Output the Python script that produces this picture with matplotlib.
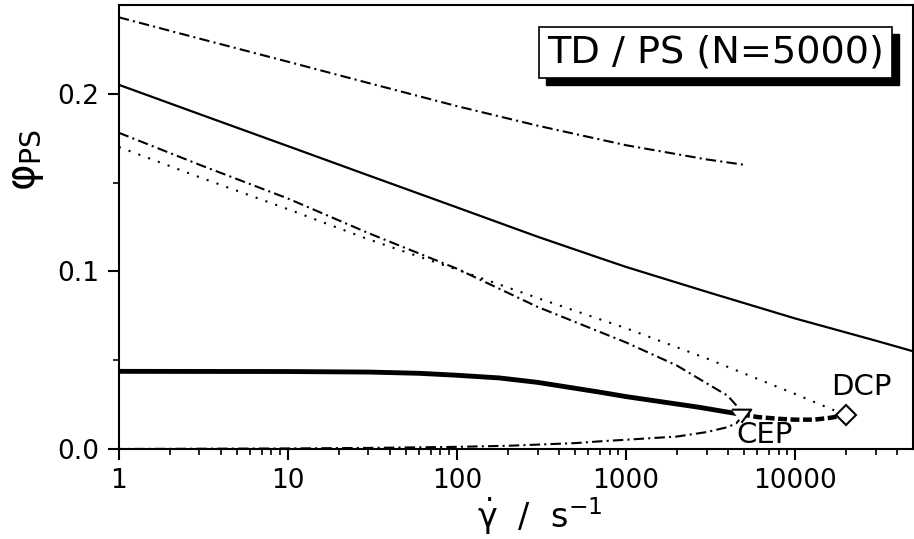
import matplotlib
matplotlib.use("Agg")
import matplotlib.pyplot as plt
from matplotlib.patches import Rectangle
from matplotlib.ticker import FixedLocator, NullFormatter, FixedFormatter

plt.rcParams['font.family'] = ['DejaVu Sans']
plt.rcParams['mathtext.fontset'] = 'dejavusans'

# upper dash-dot curve (ends at 5000)
xa = [1, 3, 10, 30, 100, 300, 1000, 3000, 5000]
ya = [0.243, 0.231, 0.218, 0.206, 0.193, 0.182, 0.171, 0.163, 0.160]

# thin solid curve
xb = [1, 3, 10, 30, 100, 300, 700, 1000, 3000, 10000, 30000, 50000]
yb = [0.205, 0.1885, 0.1705, 0.154, 0.136, 0.1195, 0.1075, 0.1025, 0.0885, 0.0735, 0.061, 0.055]

# dotted curve (ends at DCP)
xd = [1, 3, 10, 30, 100, 300, 1000, 3000, 10000, 20000]
yd = [0.170, 0.153, 0.135, 0.118, 0.101, 0.085, 0.068, 0.051, 0.031, 0.019]

# C-shaped dash-dot curve: upper branch to the tip, lower branch back
xc = [1, 3, 10, 30, 100, 300, 1000, 2000, 3000, 4000, 4500, 4750, 4800,
      4750, 4500, 4000, 3000, 2000, 1000, 700, 500, 200, 100, 30, 10, 1]
yc = [0.178, 0.160, 0.141, 0.1215, 0.1015, 0.080, 0.060, 0.047, 0.037, 0.030, 0.0245, 0.021, 0.019,
      0.017, 0.0145, 0.0123, 0.0095, 0.007, 0.0052, 0.0043, 0.0033, 0.0018, 0.0012, 0.0006, 0.0003, 0.0]

# thick solid curve up to CEP
xt = [1, 10, 30, 60, 100, 178, 300, 700, 1000, 2700, 4800]
yt = [0.0437, 0.0436, 0.0433, 0.0426, 0.0415, 0.040, 0.0375, 0.032, 0.0295, 0.0235, 0.0195]

# thick dashed curve CEP -> DCP
xtd = [4800, 6000, 8000, 10000, 13000, 16000, 20000]
ytd = [0.0195, 0.018, 0.017, 0.0165, 0.0165, 0.0175, 0.019]

cep = (4800, 0.019)
dcp = (20000, 0.019)

xticks = [1, 10, 100, 1000, 10000]
xticklabels = ['1', '10', '100', '1000', '10000']
yticks = [0.0, 0.1, 0.2]
yticklabels = ['0.0', '0.1', '0.2']

fig = plt.figure(figsize=(9.14, 5.39), dpi=100)
ax = fig.add_axes([0.130, 0.167, 0.869, 0.824])

ax.plot(xa, ya, color='black', lw=1.5, ls=(0, (5, 2, 1, 2)))
ax.plot(xb, yb, color='black', lw=1.6, ls='-')
ax.plot(xd, yd, color='black', lw=1.5, ls=(0, (1, 4)))
ax.plot(xc, yc, color='black', lw=1.5, ls=(0, (5, 2, 1, 2)))
ax.plot(xt, yt, color='black', lw=3.5, ls='-', solid_capstyle='butt')
ax.plot(xtd, ytd, color='black', lw=3.2, ls=(0, (2, 0.8)))

tri = [(-1, 0.6), (1, 0.6), (0, -0.75)]
ax.plot([cep[0]], [cep[1]], marker=tri, ms=14, mfc='white', mec='black', mew=1.5, ls='none')
ax.plot([dcp[0]], [dcp[1]], marker='D', ms=10, mfc='white', mec='black', mew=1.5, ls='none')

ax.text(24600, 0.0347, 'DCP', fontsize=21, ha='center', va='center')
ax.text(6580, 0.0078, 'CEP', fontsize=21, ha='center', va='center')

ax.set_xscale('log')
ax.set_xlim(1, 50000)
ax.set_ylim(0, 0.25)

ax.xaxis.set_major_locator(FixedLocator(xticks))
ax.xaxis.set_major_formatter(FixedFormatter(xticklabels))
minors = [m * 10 ** e for e in range(0, 5) for m in range(2, 10) if m * 10 ** e < 50000]
ax.xaxis.set_minor_locator(FixedLocator(minors))
ax.xaxis.set_minor_formatter(NullFormatter())
ax.yaxis.set_major_locator(FixedLocator(yticks))
ax.yaxis.set_major_formatter(FixedFormatter(yticklabels))
ax.yaxis.set_minor_locator(FixedLocator([0.05, 0.15]))

ax.tick_params(which='major', direction='out', length=8, width=1.5, labelsize=19,
               top=False, right=False, pad=6)
ax.tick_params(which='minor', direction='out', length=4, width=1.2, top=False, right=False)
for s in ax.spines.values():
    s.set_linewidth(1.5)

ax.set_xlabel(r'$\dot{\mathrm{\gamma}}$  /  s$^{\mathrm{-1}}$', fontsize=24)
ax.xaxis.set_label_coords(0.53, -0.105)
ax.set_ylabel('φ$_{\\mathrm{PS}}$', fontsize=29)
ax.yaxis.set_label_coords(-0.092, 0.65)

# title box with drop shadow
ax.add_patch(Rectangle((0.538, 0.820), 0.4445, 0.114, transform=ax.transAxes,
                       fc='black', ec='black', lw=1, zorder=5, clip_on=False))
ax.add_patch(Rectangle((0.529, 0.836), 0.4445, 0.114, transform=ax.transAxes,
                       fc='white', ec='black', lw=1.2, zorder=6, clip_on=False))
ax.text(0.751, 0.893, 'TD / PS (N=5000)', transform=ax.transAxes, fontsize=27.5,
        ha='center', va='center', zorder=7)

fig.savefig('out.png', dpi=100)
